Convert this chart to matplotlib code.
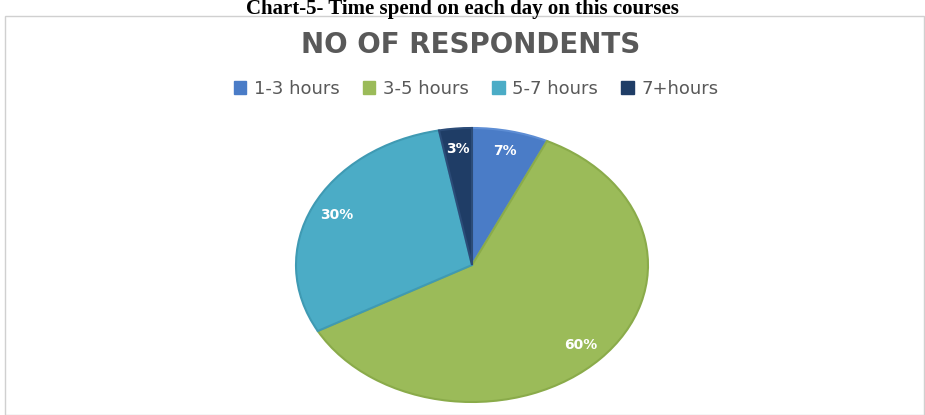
import matplotlib
matplotlib.use("Agg")
import matplotlib.pyplot as plt
from matplotlib.patches import Rectangle
import numpy as np

categories = ["1-3 hours", "3-5 hours", "5-7 hours", "7+hours"]
values = [7, 60, 30, 3]
pct_labels = ["7%", "60%", "30%", "3%"]
colors = ["#4a7cc7", "#9bbb59", "#4bacc6", "#1f3d66"]
edges = ["#5d8dd4", "#8aab4a", "#3f9ab3", "#2c4c78"]

fig = plt.figure(figsize=(9.25, 4.15), dpi=100)
fig.patch.set_facecolor("white")

# outer chart frame
fig.patches.append(Rectangle((5/925, 0), 919/925, (415-16)/415, transform=fig.transFigure,
                             fill=False, edgecolor="#d0d0d0", linewidth=1.0))

fig.text(0.5, 1 - 14/415, "Chart-5- Time spend on each day on this courses",
         ha="center", va="baseline", fontsize=15, fontweight="bold",
         family="Liberation Serif", color="black")

fig.text(471/925, 1 - 45/415, "NO OF RESPONDENTS", ha="center", va="center",
         fontsize=20, family="DejaVu Sans", fontweight="bold", color="#595959")

ax = fig.add_axes([296/925, 13/415, 352/925, 274/415])
wedges, _ = ax.pie(values, colors=colors, startangle=90, counterclock=False,
                   wedgeprops=dict(linewidth=1.5))
for w, ec in zip(wedges, edges):
    w.set_edgecolor(ec)
ax.set_aspect("auto")
ax.set_xlim(-1, 1)
ax.set_ylim(-1, 1)
ax.axis("off")

total = sum(values)
start = 90.0
for v, lab in zip(values, pct_labels):
    ang = start - v / total * 360 / 2
    start -= v / total * 360
    r = 0.85
    ax.text(r * np.cos(np.radians(ang)), r * np.sin(np.radians(ang)), lab,
            ha="center", va="center", color="white", fontsize=10,
            fontweight="bold", family="DejaVu Sans")

handles = [Rectangle((0, 0), 1, 1, facecolor=c, edgecolor=c) for c in colors]
fig.legend(handles, categories, loc="center", bbox_to_anchor=(476/925, 1 - 89/415),
           ncol=4, frameon=False, handlelength=0.7, handleheight=0.7,
           handletextpad=0.4, columnspacing=1.3, labelcolor="#595959",
           prop={"family": "DejaVu Sans", "size": 13})

fig.savefig("out.png", dpi=100)
